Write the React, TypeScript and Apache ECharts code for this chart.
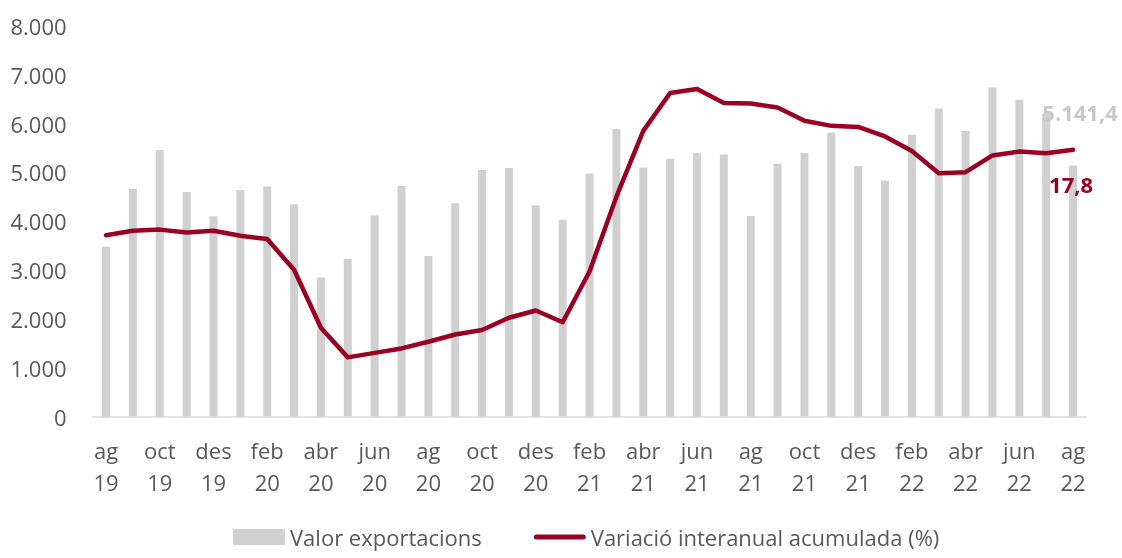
import React, { useEffect, useRef } from "react";
import * as echarts from "echarts";

const categories = [
  "ag 19", "set 19", "oct 19", "nov 19", "des 19", "gen 20", "feb 20", "mar 20", "abr 20", "mai 20",
  "jun 20", "jul 20", "ag 20", "set 20", "oct 20", "nov 20", "des 20", "gen 21", "feb 21", "mar 21",
  "abr 21", "mai 21", "jun 21", "jul 21", "ag 21", "set 21", "oct 21", "nov 21", "des 21", "gen 22",
  "feb 22", "mar 22", "abr 22", "mai 22", "jun 22", "jul 22", "ag 22",
];

const exportValues = [
  3480, 4660, 5460, 4600, 4100, 4640, 4710, 4350, 2850, 3230,
  4120, 4720, 3290, 4370, 5050, 5090, 4330, 4030, 4980, 5890,
  5100, 5280, 5400, 5370, 4110, 5180, 5400, 5820, 5130, 4830,
  5770, 6310, 5850, 6740, 6490, 6200, 5141.4,
];

const variationValues = [
  2.5, 3.3, 3.5, 3.0, 3.3, 2.4, 1.8, -3.7, -14.1, -19.4,
  -18.6, -17.8, -16.6, -15.3, -14.5, -12.3, -11.0, -13.1, -4.0, 9.4,
  21.2, 28.0, 28.7, 26.2, 26.1, 25.4, 23.0, 22.1, 21.9, 20.2,
  17.6, 13.6, 13.8, 16.8, 17.5, 17.2, 17.8,
];

const yTicks = { min: 0, max: 8000, interval: 1000 };

const FONT = "'Open Sans', 'Noto Sans', sans-serif";
const BAR_COLOR = "#d0d0d0";
const LINE_COLOR = "#990022";
const TEXT_COLOR = "#595959";
const LINE_ICON =
  "path://M2.5,0 H49.5 A2.5,2.5 0 0 1 49.5,5 H2.5 A2.5,2.5 0 0 1 2.5,0 Z";

function fmtThousands(v: number): string {
  return String(Math.round(v)).replace(/\B(?=(\d{3})+(?!\d))/g, ".");
}
function fmtDecimal(v: number): string {
  const parts = v.toFixed(1).split(".");
  return parts[0].replace(/\B(?=(\d{3})+(?!\d))/g, ".") + "," + parts[1];
}

export default function App() {
  const ref = useRef<HTMLDivElement>(null);
  useEffect(() => {
    if (!ref.current) return;
    const chart = echarts.init(ref.current, undefined, { renderer: "svg" });
    const last = exportValues.length - 1;
    const barData = exportValues.map((v, i) =>
      i === last
        ? {
            value: v,
            label: {
              show: true,
              position: "top",
              formatter: (p: any) => fmtDecimal(p.value),
              offset: [7, -38],
              color: "#c8c8c8",
              fontWeight: "bold",
              fontSize: 22,
              lineHeight: 22,
              fontFamily: FONT,
            },
          }
        : v
    );
    chart.setOption({
      animation: false,
      textStyle: { fontFamily: FONT },
      grid: { left: 92.6, right: 35.5, top: 26, bottom: 141.5, containLabel: false },
      legend: {
        left: 233,
        top: 526,
        padding: 0,
        itemWidth: 52,
        itemHeight: 16,
        itemGap: 52,
        symbolKeepAspect: true,
        textStyle: { color: TEXT_COLOR, fontSize: 22, lineHeight: 22, fontFamily: FONT },
        data: [
          { name: "Valor exportacions", icon: "rect" },
          {
            name: "Variació interanual acumulada (%)",
            icon: LINE_ICON,
            itemStyle: { color: LINE_COLOR },
          },
        ],
      },
      xAxis: {
        type: "category",
        data: categories,
        axisLine: { show: true, lineStyle: { color: "#d9d9d9", width: 1.5 } },
        axisTick: { show: false },
        axisLabel: {
          interval: 1,
          color: TEXT_COLOR,
          fontSize: 22,
          lineHeight: 32,
          margin: 17,
          fontFamily: FONT,
          formatter: (v: string) => v.replace(" ", "\n"),
        },
      },
      yAxis: [
        {
          type: "value",
          min: yTicks.min,
          max: yTicks.max,
          interval: yTicks.interval,
          axisLine: { show: false },
          axisTick: { show: false },
          splitLine: { show: false },
          axisLabel: {
            color: TEXT_COLOR,
            fontSize: 22,
            margin: 26,
            fontFamily: FONT,
            formatter: (v: number) => fmtThousands(v),
          },
        },
        {
          type: "value",
          min: -30,
          max: 40,
          show: false,
          splitLine: { show: false },
        },
      ],
      series: [
        {
          name: "Valor exportacions",
          type: "bar",
          data: barData,
          barWidth: 8,
          itemStyle: { color: BAR_COLOR },
          z: 1,
        },
        {
          name: "Variació interanual acumulada (%)",
          type: "line",
          yAxisIndex: 1,
          data: variationValues,
          symbol: "none",
          showSymbol: false,
          lineStyle: { color: LINE_COLOR, width: 4.5, cap: "round", join: "round" },
          itemStyle: { color: LINE_COLOR },
          z: 3,
          markPoint: {
            symbol: "circle",
            symbolSize: 2,
            itemStyle: { color: "rgba(0,0,0,0)" },
            data: [
              {
                coord: [last, variationValues[last]],
                value: variationValues[last],
              },
            ],
            label: {
              show: true,
              position: "bottom",
              distance: 5,
              offset: [-2, 17],
              formatter: (p: any) => fmtDecimal(p.value),
              color: LINE_COLOR,
              fontWeight: "bold",
              fontSize: 22,
              lineHeight: 22,
              fontFamily: FONT,
            },
          },
        },
      ],
    });
    return () => chart.dispose();
  }, []);
  return (
    <div
      ref={ref}
      style={{ position: "fixed", left: 0, top: 0, width: 1122, height: 558 }}
    />
  );
}
